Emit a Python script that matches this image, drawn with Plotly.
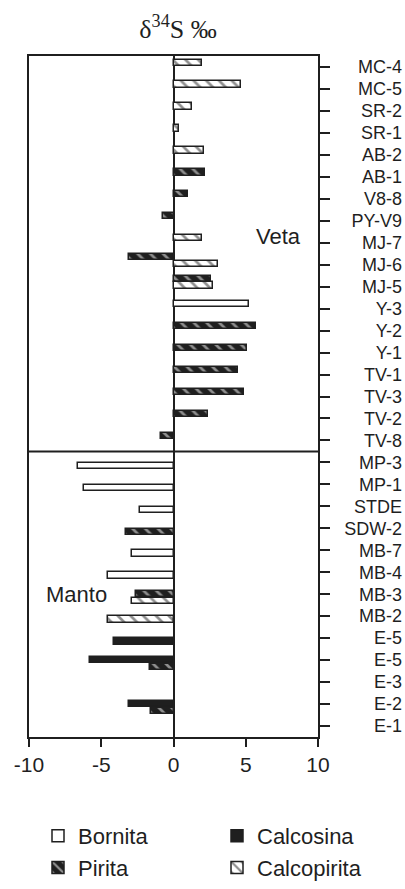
import plotly.graph_objects as go

# Sample identifiers, top to bottom (vein samples first, then manto samples)
samples = ["MC-4", "MC-5", "SR-2", "SR-1", "AB-2", "AB-1", "V8-8", "PY-V9",
           "MJ-7", "MJ-6", "MJ-5", "Y-3", "Y-2", "Y-1", "TV-1", "TV-3",
           "TV-2", "TV-8",
           "MP-3", "MP-1", "STDE", "SDW-2", "MB-7", "MB-4", "MB-3", "MB-2",
           "E-5", "E-5", "E-3", "E-2", "E-1"]
n_veta = 18

# delta 34S (per mil) for each sulfide, aligned with `samples`
bornita = [None, None, None, None, None, None, None, None, None, None, None,
           5.2, None, None, None, None, None, None,
           -6.6, -6.2, -2.3, None, -2.85, -4.55, None, None,
           None, None, None, None, None]
calcosina = [None, None, None, None, None, None, None, None, None, None, None,
             None, None, None, None, None, None, None,
             None, None, None, None, None, None, None, None,
             -4.15, -5.75, None, -3.1, None]
pirita = [None, None, None, None, None, 2.2, 1.0, -0.75, None, -3.1, 2.6,
          None, 5.7, 5.1, 4.45, 4.85, 2.4, -0.85,
          None, None, None, -3.3, None, None, -2.6, None,
          None, -1.65, None, -1.55, None]
calcopirita = [2.0, 4.7, 1.25, 0.35, 2.1, None, None, None, 1.95, 3.1, 2.75,
               None, None, None, None, None, None, None,
               None, None, None, None, None, None, -2.9, -4.5,
               None, None, None, None, None]

x_ticks = [-10, -5, 0, 5, 10]

INK = "#1f1f1f"
series = [
    ("Bornita", bornita, dict(color="white")),
    ("Calcosina", calcosina, dict(color=INK)),
    ("Pirita", pirita, dict(color=INK, pattern=dict(shape="\\", fgcolor="white",
                                                     size=9, solidity=0.3))),
    ("Calcopirita", calcopirita, dict(color="white", pattern=dict(shape="\\", fgcolor=INK,
                                                                  size=9, solidity=0.3))),
]

BAR_W = 0.28
PAIR_OFF = 0.15
NUDGE = {True: -0.2, False: 0.15}   # small vertical shift of bars in each block

fig = go.Figure()
for k, (name, vals, mstyle) in enumerate(series):
    ys, xs = [], []
    for i, v in enumerate(vals):
        if v is None:
            continue
        present = [j for j, s in enumerate(series) if s[1][i] is not None]
        off = 0.0
        if len(present) == 2:
            off = -PAIR_OFF if present.index(k) == 0 else PAIR_OFF
        ys.append(i + off + NUDGE[i < n_veta])
        xs.append(v)
    fig.add_trace(go.Bar(
        x=xs, y=ys, orientation="h", width=BAR_W, name=name,
        marker=dict(line=dict(color=INK, width=1.5), **mstyle),
    ))

# carrier for the sample-name axis
fig.add_trace(go.Scatter(x=[None], y=[None], yaxis="y2", showlegend=False,
                         hoverinfo="skip"))

W, H = 405, 889
ML, MT, MB = 29, 56, 152
plot_right = 318
paper_w = W - ML
yr = [len(samples) - 0.5, -0.5]

fig.add_shape(type="line", x0=-10, x1=10, y0=n_veta - 0.5, y1=n_veta - 0.5,
              xref="x", yref="y", line=dict(color=INK, width=2))

fig.add_annotation(x=7.3, y=7.7, text="Veta", showarrow=False,
                   font=dict(size=22, color=INK), xanchor="center", yanchor="middle")
fig.add_annotation(x=-6.7, y=24.0, text="Manto", showarrow=False,
                   font=dict(size=22, color=INK), xanchor="center", yanchor="middle")

fig.update_layout(
    width=W, height=H,
    margin=dict(l=ML, r=0, t=MT, b=MB, autoexpand=False),
    paper_bgcolor="white", plot_bgcolor="white",
    font=dict(family="Liberation Sans, Arial, sans-serif", color=INK),
    bargap=0,
    title=dict(text="δ<sup>34</sup>S ‰", font=dict(family="Liberation Serif, serif", size=26, color=INK),
               x=178 / W, xref="container", xanchor="center",
               y=1 - 29 / H, yref="container", yanchor="middle"),
    xaxis=dict(domain=[0, (plot_right - ML) / paper_w], range=[-10, 10],
               tickmode="array", tickvals=x_ticks, ticktext=[str(v) for v in x_ticks],
               ticks="outside", ticklen=8, tickwidth=2, tickcolor=INK,
               showline=True, linecolor=INK, linewidth=2, mirror=True,
               showgrid=False, zeroline=True, zerolinecolor=INK, zerolinewidth=2,
               tickfont=dict(size=21), fixedrange=True, automargin=False),
    yaxis=dict(range=yr, tickmode="array", tickvals=list(range(len(samples))),
               showticklabels=False, side="right",
               ticks="outside", ticklen=10, tickwidth=2, tickcolor=INK,
               showline=True, linecolor=INK, linewidth=2, mirror=True,
               showgrid=False, zeroline=False, fixedrange=True, automargin=False),
    yaxis2=dict(range=yr, overlaying="y", anchor="free", side="left",
                position=0.992, tickmode="array", tickvals=list(range(len(samples))),
                ticktext=samples, ticks="", showline=False, showgrid=False,
                zeroline=False, tickfont=dict(size=18), fixedrange=True,
                automargin=False),
    showlegend=True,
    legend=dict(orientation="h", xref="container", yref="container",
                x=38 / W, y=1 - 815 / H, xanchor="left", yanchor="top",
                entrywidth=134, entrywidthmode="pixels",
                font=dict(size=22), traceorder="normal"),
)

fig.write_html("out.html")
